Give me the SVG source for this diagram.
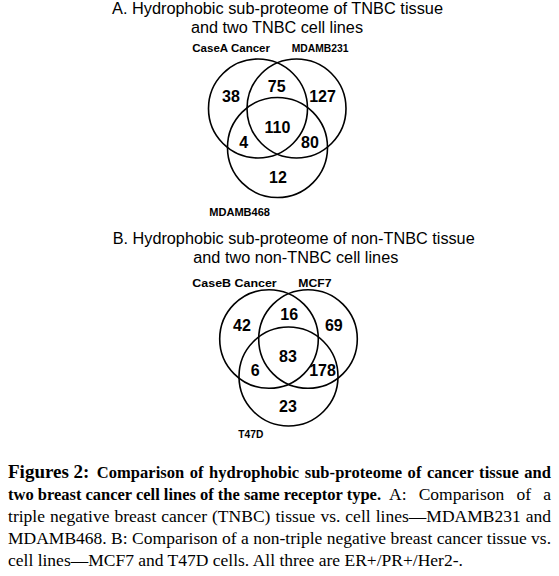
<svg xmlns="http://www.w3.org/2000/svg" width="559" height="576" viewBox="0 0 559 576">
<style>
.title{font-family:"Liberation Sans",Arial,sans-serif;font-size:16px;fill:#000}
.lbl{font-family:"Liberation Sans",Arial,sans-serif;font-size:11px;font-weight:bold;fill:#000}
.num{font-family:"Liberation Sans",Arial,sans-serif;font-size:16px;font-weight:bold;fill:#000;text-anchor:middle}
.circ{fill:none;stroke:#000;stroke-width:1.6}
.cap{font-family:"Liberation Serif","Times New Roman",serif;font-size:17.5px;fill:#000}
.capb{font-family:"Liberation Serif","Times New Roman",serif;font-size:16.5px;font-weight:bold;fill:#000}
</style>
<rect width="559" height="576" fill="#fff"/>
<g id="venn-a">
  <text class="title" x="112" y="14" textLength="331" lengthAdjust="spacingAndGlyphs">A. Hydrophobic sub-proteome of TNBC tissue</text>
  <text class="title" x="191" y="33" textLength="172" lengthAdjust="spacingAndGlyphs">and two TNBC cell lines</text>
  <g id="a-casea"><circle class="circ" cx="258" cy="108.5" r="49.5"/><text class="lbl" x="192.3" y="51.7" textLength="77.7" lengthAdjust="spacingAndGlyphs">CaseA Cancer</text></g>
  <g id="a-mdamb231"><circle class="circ" cx="296.5" cy="108.5" r="49.5"/><text class="lbl" x="291.7" y="51.7" textLength="56.7" lengthAdjust="spacingAndGlyphs">MDAMB231</text></g>
  <g id="a-mdamb468"><circle class="circ" cx="277.5" cy="147.5" r="50"/><text class="lbl" x="209.3" y="215.7" textLength="60.7" lengthAdjust="spacingAndGlyphs">MDAMB468</text></g>
  <text class="num" x="231" y="102.3">38</text>
  <text class="num" x="276.7" y="91.7">75</text>
  <text class="num" x="322.5" y="102.3">127</text>
  <text class="num" x="277.5" y="133.3">110</text>
  <text class="num" x="243.8" y="148.3">4</text>
  <text class="num" x="310" y="148.3">80</text>
  <text class="num" x="278" y="182.7">12</text>
</g>
<g id="venn-b">
  <text class="title" x="112.7" y="244" textLength="362" lengthAdjust="spacingAndGlyphs">B. Hydrophobic sub-proteome of non-TNBC tissue</text>
  <text class="title" x="193.3" y="263" textLength="205" lengthAdjust="spacingAndGlyphs">and two non-TNBC cell lines</text>
  <g id="b-caseb"><circle class="circ" cx="269" cy="339" r="49.3"/><text class="lbl" x="192.3" y="287" textLength="84.4" lengthAdjust="spacingAndGlyphs">CaseB Cancer</text></g>
  <g id="b-mcf7"><circle class="circ" cx="308" cy="339" r="49.3"/><text class="lbl" x="298.3" y="287" textLength="33.3" lengthAdjust="spacingAndGlyphs">MCF7</text></g>
  <g id="b-t47d"><circle class="circ" cx="288.5" cy="376.5" r="49.5"/><text class="lbl" x="238.3" y="438.3" textLength="25" lengthAdjust="spacingAndGlyphs">T47D</text></g>
  <text class="num" x="242" y="331">42</text>
  <text class="num" x="289.2" y="320">16</text>
  <text class="num" x="333.8" y="331">69</text>
  <text class="num" x="288" y="361.7">83</text>
  <text class="num" x="255.2" y="376">6</text>
  <text class="num" x="322.5" y="376">178</text>
  <text class="num" x="288" y="411.7">23</text>
</g>
<g id="caption">
  <text class="capb" x="8" y="477.5" style="font-size:19px">Figures 2:</text>
  <text class="capb" x="96.7" y="477.5" word-spacing="1.3" textLength="454.3" lengthAdjust="spacing">Comparison of hydrophobic sub-proteome of cancer tissue and</text>
  <text class="capb" x="8" y="499.5" textLength="373" lengthAdjust="spacing">two breast cancer cell lines of the same receptor type.</text>
  <text class="cap" y="499.5"><tspan x="389">A:</tspan><tspan x="418.7">Comparison</tspan><tspan x="516.5">of</tspan><tspan x="543.2">a</tspan></text>
  <text class="cap" x="8" y="521.5" word-spacing="0.6" textLength="543" lengthAdjust="spacing">triple negative breast cancer (TNBC) tissue vs. cell lines—MDAMB231 and</text>
  <text class="cap" x="8" y="543.5" textLength="543" lengthAdjust="spacing">MDAMB468. B: Comparison of a non-triple negative breast cancer tissue vs.</text>
  <text class="cap" x="8" y="565.5">cell lines—MCF7 and T47D cells. All three are ER+/PR+/Her2-.</text>
</g>
</svg>
